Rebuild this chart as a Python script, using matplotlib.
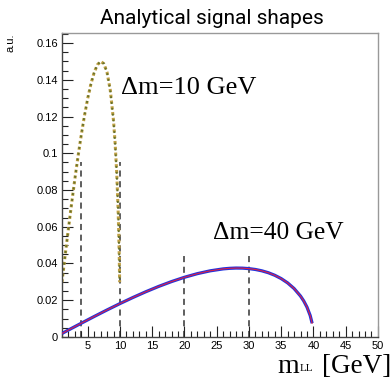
import matplotlib
matplotlib.use("Agg")
import matplotlib.pyplot as plt
from matplotlib.ticker import MultipleLocator, FixedLocator, FixedFormatter

# dilepton mass (GeV) and normalised shape, dm = 10 GeV
m10 = [1.0, 1.5, 2.0, 2.5, 3.0, 3.5, 4.0, 4.5, 5.0, 5.5, 6.0, 6.5, 7.0, 7.5,
       8.0, 8.5, 9.0, 9.25, 9.5, 9.7, 9.8, 9.9, 9.95]
y10 = [0.0298, 0.0445, 0.0588, 0.0726, 0.0859, 0.0984, 0.1100, 0.1206, 0.1299,
       0.1378, 0.1440, 0.1482, 0.1500, 0.1488, 0.1440, 0.1343, 0.1177, 0.1054,
       0.0890, 0.0707, 0.0585, 0.0419, 0.0298]

# dm = 40 GeV
m40 = [1, 2, 4, 6, 8, 10, 12, 14, 16, 18, 20, 22, 24, 26, 27, 28, 29, 30, 31,
       32, 33, 34, 35, 36, 37, 38, 38.5, 39, 39.5, 39.8]
y40 = [0.00187, 0.00375, 0.00746, 0.01112, 0.01470, 0.01816, 0.02146, 0.02459,
       0.02750, 0.03014, 0.03248, 0.03445, 0.03600, 0.03705, 0.03735, 0.03750,
       0.03745, 0.03720, 0.03673, 0.03600, 0.03497, 0.03358, 0.03177, 0.02942,
       0.02636, 0.02225, 0.01958, 0.01625, 0.01167, 0.00745]

# vertical markers
cut_x = [4, 10, 20, 30]
cut_top = [0.095, 0.095, 0.046, 0.046]

ytick_vals = [0, 0.02, 0.04, 0.06, 0.08, 0.1, 0.12, 0.14, 0.16]
ytick_labels = ["0", "0.02", "0.04", "0.06", "0.08", "0.1", "0.12", "0.14", "0.16"]

plt.rcParams["font.family"] = "Liberation Sans"

fig = plt.figure(figsize=(3.92, 3.79), dpi=100)
ax = fig.add_axes([0.158, 0.111, 0.806, 0.802])

for x, top in zip(cut_x, cut_top):
    ax.plot([x, x], [0, top], color="#333333", lw=1.1, ls=(0, (4, 3)), zorder=1)

# dotted curve: gold squares with olive centres
ax.plot(m10, y10, color="#c0a045", lw=2.2, ls=(0, (1, 0.9)), zorder=2)
ax.plot(m10, y10, color="#66722a", lw=1.4, ls=(2.86, (1, 2.0)), zorder=2)

ax.plot(m40, y40, color="#2233dd", lw=2.3, solid_capstyle="butt", zorder=3)
ax.plot(m40, y40, color="#dd2244", lw=0.8, zorder=4)

ax.set_xlim(1, 50)
ax.set_ylim(0, 0.1655)

ax.xaxis.set_major_locator(FixedLocator([5, 10, 15, 20, 25, 30, 35, 40, 45, 50]))
ax.xaxis.set_minor_locator(MultipleLocator(1))
ax.yaxis.set_major_locator(FixedLocator(ytick_vals))
ax.yaxis.set_major_formatter(FixedFormatter(ytick_labels))
ax.yaxis.set_minor_locator(MultipleLocator(0.005))

ax.tick_params(which="both", direction="in", top=False, right=False,
               width=0.8, color="#222222", labelsize=8)
ax.tick_params(which="major", length=8, pad=3)
ax.tick_params(which="minor", length=4)

for s in ["top", "right"]:
    ax.spines[s].set_color("#999999")
    ax.spines[s].set_linewidth(1.0)
for s in ["left", "bottom"]:
    ax.spines[s].set_color("#444444")
    ax.spines[s].set_linewidth(1.0)

ax.text(10.15, 0.132, "\u0394m=10 GeV", family="Liberation Serif", fontsize=19,
        va="baseline", ha="left")
ax.text(24.4, 0.0534, "\u0394m=40 GeV", family="Liberation Serif", fontsize=18.4,
        va="baseline", ha="left")

fig.text(212 / 392, 1 - 18 / 379, "Analytical signal shapes", family="Roboto",
         fontsize=15, ha="center", va="center")
fig.text(10 / 392, 1 - 43 / 379, "a.u.", fontsize=8,
         rotation=90, ha="center", va="center")

# x axis title: m, small LL subscript, unit
fig.text(277 / 392, 1 - 373 / 379, "m", family="Liberation Serif", fontsize=20,
         ha="left", va="baseline")
fig.text(300 / 392, 1 - 364 / 379, "LL", family="Liberation Serif", fontsize=8,
         ha="left", va="top")
fig.text(391 / 392, 1 - 373 / 379, "[GeV]", family="Liberation Serif",
         fontsize=19.5, ha="right", va="baseline")

fig.savefig("out.png", dpi=100)
